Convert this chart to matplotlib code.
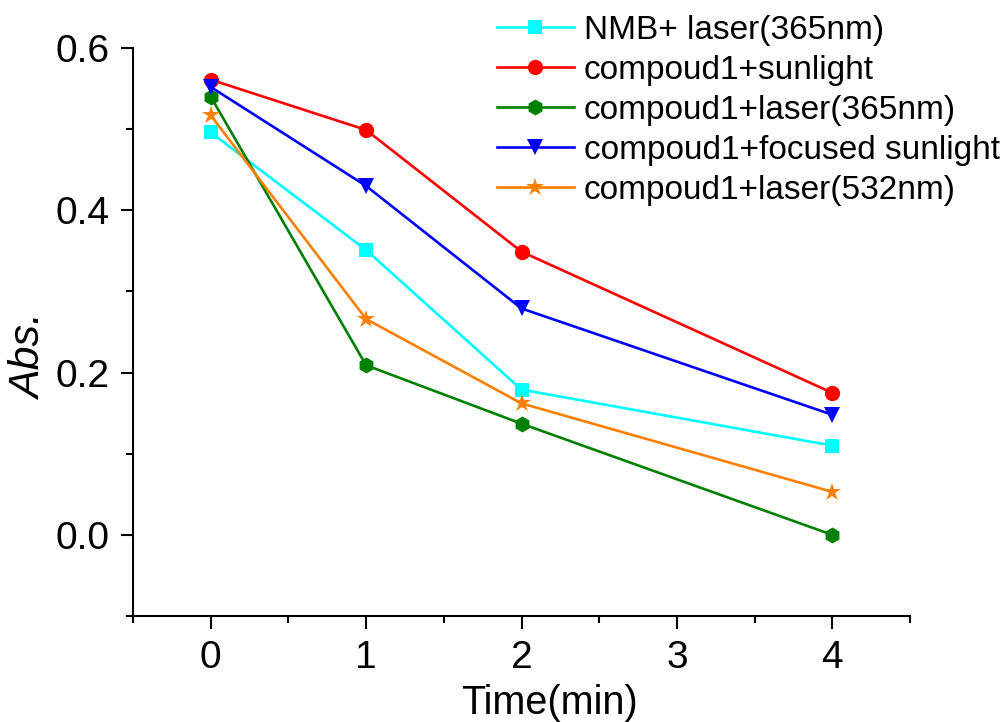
from matplotlib import pyplot as plt
import numpy as np

plt.rcParams['font.family'] = ['Liberation Sans', 'DejaVu Sans']

# data
time = [0, 1, 2, 4]
labels = ['NMB+ laser(365nm)', 'compoud1+sunlight', 'compoud1+laser(365nm)',
          'compoud1+focused sunlight', 'compoud1+laser(532nm)']
nmb_laser365 = [0.496, 0.351, 0.179, 0.110]
c1_sunlight = [0.561, 0.499, 0.349, 0.175]
c1_laser365 = [0.540, 0.209, 0.137, 0.000]
c1_focused = [0.552, 0.430, 0.279, 0.148]
c1_laser532 = [0.517, 0.266, 0.162, 0.053]

series = [nmb_laser365, c1_sunlight, c1_laser365, c1_focused, c1_laser532]
colors = ['#00FFFF', '#FF0000', '#008000', '#0000FF', '#FF8000']
markers = ['s', 'o', 'h', 'v', '*']
msizes = [9.5, 11, 11.5, 11.5, 13.5]

fig = plt.figure(figsize=(10.08, 7.22), dpi=100)
ax = fig.add_axes([133/1008, 1-616/722, 777/1008, 568/722])

for y, lab, c, m, ms in zip(series, labels, colors, markers, msizes):
    ax.plot(time, y, '-', color=c, marker=m, markersize=ms, lw=1.9,
            markeredgewidth=0, label=lab)

ax.set_xlim(-0.5, 4.5)
ax.set_ylim(-0.1, 0.6)
ax.set_xticks([0, 1, 2, 3, 4])
ax.set_xticks(np.arange(-0.5, 4.6, 1.0), minor=True)
ax.set_yticks([0.0, 0.2, 0.4, 0.6])
ax.set_yticklabels(['0.0', '0.2', '0.4', '0.6'])
ax.set_yticks([-0.1, 0.1, 0.3, 0.5], minor=True)

for s in ['top', 'right']:
    ax.spines[s].set_visible(False)
for s in ['left', 'bottom']:
    ax.spines[s].set_linewidth(1.5)
ax.tick_params(which='major', direction='out', length=9, width=1.5, labelsize=28, pad=8)
ax.tick_params(which='minor', direction='out', length=5, width=1.5)

fig.text(550/1008, 1-684/722, 'Time(min)', fontsize=28.5, ha='center', va='top')
fig.text(30/1008, 1-357/722, 'Abs.', fontsize=31, style='italic',
         rotation=90, ha='center', va='center')

ax.legend(loc='upper left', bbox_to_anchor=(497/1008, 1-15/722),
          bbox_transform=fig.transFigure, frameon=False, fontsize=24,
          handlelength=2.3, handletextpad=0.3, labelspacing=0.27,
          borderpad=0, borderaxespad=0, numpoints=1)

plt.savefig('out.png', dpi=100)
